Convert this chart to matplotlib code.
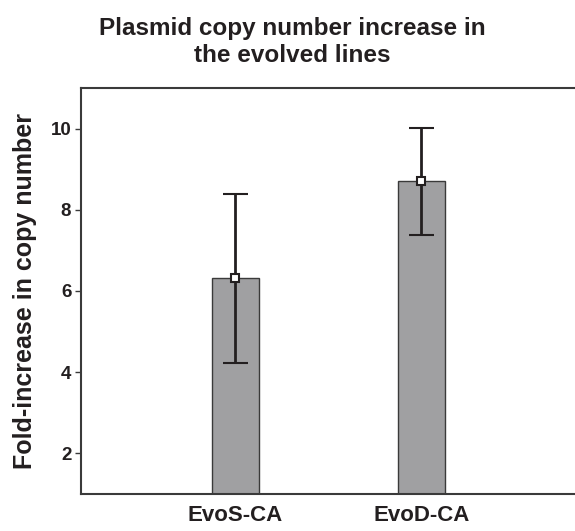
import matplotlib.pyplot as plt

# data
lines = ["EvoS-CA", "EvoD-CA"]
fold_increase = [6.31, 8.70]
err = [2.09, 1.32]
yticks = [2, 4, 6, 8, 10]

plt.rcParams['font.family'] = ['Liberation Sans', 'DejaVu Sans']
plt.rcParams['font.weight'] = 'bold'

fig = plt.figure(figsize=(5.75, 5.31), dpi=100)
ax = fig.add_axes([0.1409, 0.0697, 0.87, 0.7646])

xpos = [1, 2]
ax.bar(xpos, fold_increase, width=0.25, color="#a0a0a2", edgecolor="#3a3a3a", linewidth=1.0, zorder=2)
ax.errorbar(xpos, fold_increase, yerr=err, fmt="s", color="#231f20", ecolor="#231f20",
            elinewidth=2.0, capsize=9, capthick=2.0, markersize=6,
            markerfacecolor="white", markeredgecolor="#231f20", markeredgewidth=1.5, zorder=3)

ax.set_xlim(0.17, 2.86)
ax.set_ylim(1, 11)
ax.set_yticks(yticks)
ax.set_yticklabels([str(v) for v in yticks], fontsize=13.5, fontweight="bold", color="#231f20")
ax.set_xticks(xpos)
ax.set_xticklabels(lines, fontsize=16, fontweight="bold", color="#231f20")
ax.tick_params(axis="x", length=0, pad=8)
ax.tick_params(axis="y", direction="out", length=4, width=1, pad=3, color="#3a3a3a")

for s in ["left", "top", "bottom"]:
    ax.spines[s].set_linewidth(1.5)
    ax.spines[s].set_color("#3a3a3a")
ax.spines["right"].set_visible(False)

ax.set_ylabel("Fold-increase in copy number", fontsize=18, fontweight="bold", labelpad=10,
              color="#231f20")

fig.text(292 / 575, 1 - 42 / 531, "Plasmid copy number increase in\nthe evolved lines",
         ha="center", va="center", fontsize=17.5, fontweight="bold", linespacing=1.25,
         color="#231f20")

fig.savefig("out.png", dpi=100)
